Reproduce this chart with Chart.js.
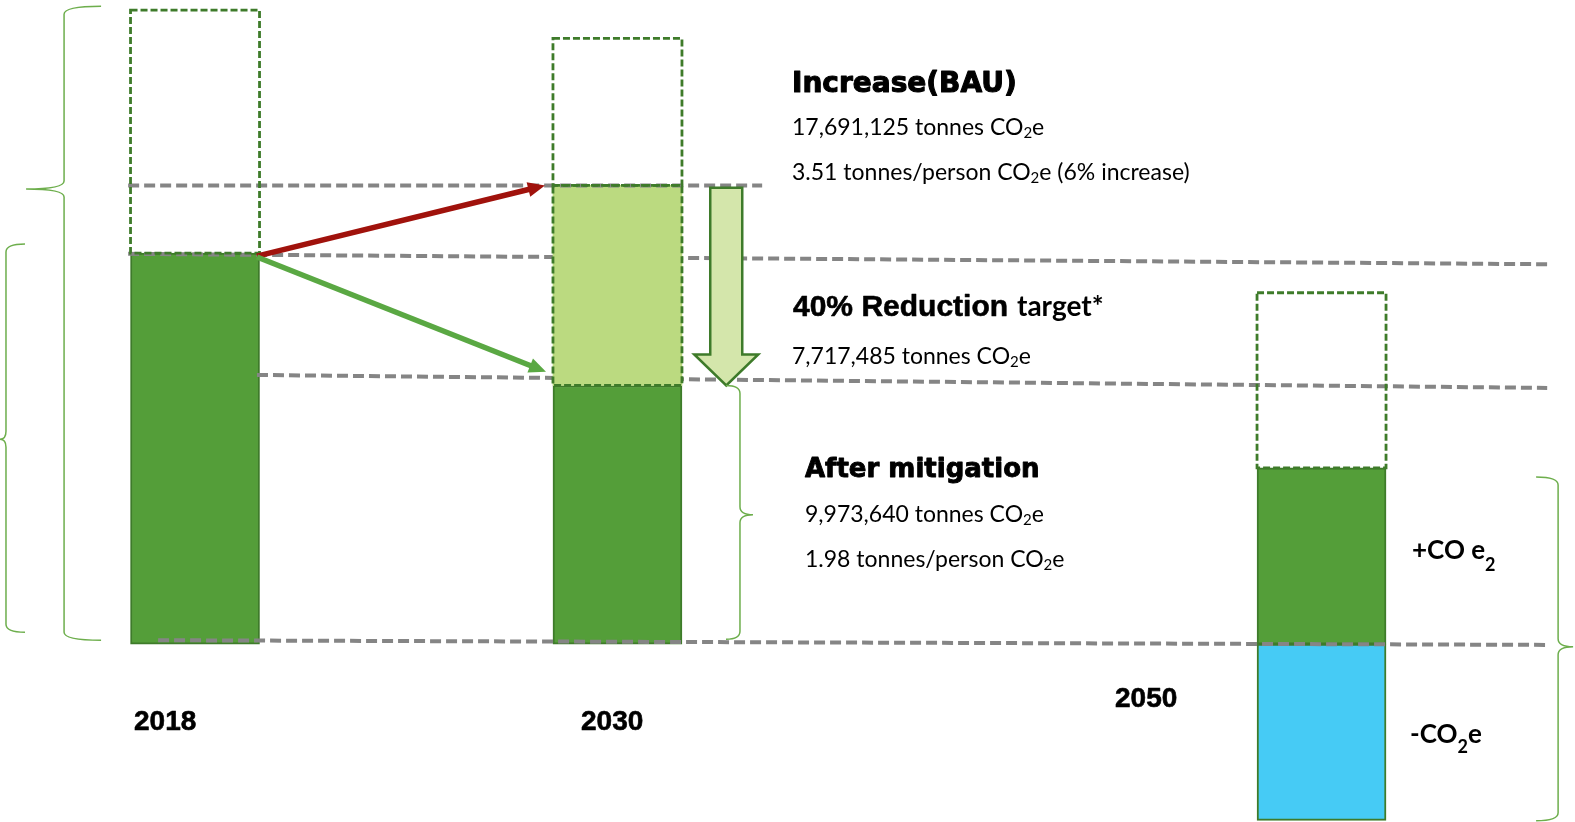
<!DOCTYPE html>
<html>
<head>
<meta charset="utf-8">
<title>Emissions pathway 2018-2050</title>
<script src="https://cdn.jsdelivr.net/npm/chart.js@4/dist/chart.umd.min.js"></script>
<style>
  html, body { margin: 0; padding: 0; background: #fff; }
  canvas { display: block; }
</style>
</head>
<body>
<canvas id="pathwayChart" width="1575" height="822"></canvas>
<script>
// Emissions in million tonnes CO2e
const years = [2018, 2030, 2050];
const emitted = [15.08, 9.97364, 6.8];        // dark green part
const reductionTarget = [0, 7.717485, 0];     // 40% reduction, 2030 only
const removals = [0, 0, -6.8];                // negative emissions, 2050 only
const outlineTop = [24.45, 23.36, 13.55];     // top of the dashed boxes

// dashed grey reference levels
const guideFrom = [2016.10, 2016.10, 2019.76, 2016.95];
const guideTo = [2034.11, 2056.41, 2056.41, 2056.41];
const guideStart = [17.691, 15.05, 10.38, 0.15];
const guideEnd = [17.691, 14.65, 9.88, -0.03];

// arrows from the 2018 level to the 2030 outcomes
const arrowFrom = [[2019.76, 14.96], [2019.76, 14.93]];
const arrowTo = [[2027.94, 17.69], [2027.97, 10.5]];

const green = '#549E39';
const darkGreen = '#3E7B2A';
const lightGreen = '#BBDA80';
const blue = '#46CBF5';
const grey = '#858585';

function bars(values, base) {
  return years
    .map((x, i) => ({ x, y: [base[i], base[i] + values[i]] }))
    .filter(d => d.y[0] !== d.y[1]);
}

function guide(i, order) {
  return {
    type: 'line',
    label: 'guide ' + i,
    data: [{ x: guideFrom[i], y: guideStart[i] }, { x: guideTo[i], y: guideEnd[i] }],
    borderColor: grey,
    borderWidth: 4,
    borderDash: [11, 5],
    pointRadius: 0,
    fill: false,
    order: order
  };
}

// braces: x in years, spans in value units, tail/depth in px
const braces = [
  { x: 2014.28, top: 24.6, bottom: 0.15, tip: 17.55, dir: 1, tail: 37, depth: 38 },
  { x: 2012.63, top: 15.43, bottom: 0.46, tip: 7.9, dir: 1, tail: 19, depth: 6 },
  { x: 2033.48, top: emitted[1], bottom: 0.19, tip: emitted[1] / 2, dir: -1, tail: 14, depth: 13 },
  { x: 2056.72, top: 6.44, bottom: -6.81, tip: -0.1, dir: -1, tail: 22, depth: 15 }
];

const body = '23px Lato';
const sub = '15px Lato';
const heavy = 'bold 28px "DejaVu Sans"';
const notes = [
  { x: 792, y: 92, runs: [['Increase(BAU)', heavy, 0, 1.1]] },
  { x: 792, y: 135, runs: [['17,691,125 tonnes CO', body], ['2', sub, 3], ['e', body]] },
  { x: 792, y: 180, runs: [['3.51 tonnes/person CO', body], ['2', sub, 3], ['e (6% increase)', body]] },
  { x: 793, y: 316, runs: [['40% Reduction ', 'bold 30px "Liberation Sans"', 0, 0.6], ['target*', 'bold 28px Lato']] },
  { x: 792, y: 364, runs: [['7,717,485 tonnes CO', body], ['2', sub, 3], ['e', body]] },
  { x: 805, y: 477, runs: [['After mitigation', 'bold 26px "DejaVu Sans"', 0, 0.9]] },
  { x: 805, y: 522, runs: [['9,973,640 tonnes CO', body], ['2', sub, 3], ['e', body]] },
  { x: 805, y: 567, runs: [['1.98 tonnes/person CO', body], ['2', sub, 3], ['e', body]] },
  { x: 1412, y: 559, runs: [['+CO e', 'bold 26px Lato'], ['2', 'bold 18px Lato', 12]] },
  { x: 1410, y: 743, runs: [['-CO', 'bold 26px Lato'], ['2', 'bold 18px Lato', 10], ['e', 'bold 26px Lato']] },
  { x: 134, y: 730, runs: [['2018', 'bold 28px "Liberation Sans"', 0, 0.6]] },
  { x: 581, y: 730, runs: [['2030', 'bold 28px "Liberation Sans"', 0, 0.6]] },
  { x: 1115, y: 707, runs: [['2050', 'bold 28px "Liberation Sans"', 0, 0.6]] }
];

function drawRuns(ctx, x, y, runs) {
  ctx.fillStyle = '#000';
  ctx.strokeStyle = '#000';
  ctx.lineJoin = 'round';
  ctx.textBaseline = 'alphabetic';
  ctx.textAlign = 'left';
  runs.forEach(([t, font, dy, weight]) => {
    ctx.font = font;
    ctx.fillText(t, x, y + (dy || 0));
    if (weight) {
      ctx.lineWidth = weight;
      ctx.strokeText(t, x, y + (dy || 0));
    }
    x += ctx.measureText(t).width + (weight || 0);
  });
}

function drawBrace(ctx, x, top, bot, tip, dir, tail, depth) {
  const r = 8;
  ctx.beginPath();
  ctx.moveTo(x + dir * tail, top);
  ctx.quadraticCurveTo(x, top, x, top + r);
  ctx.lineTo(x, tip - r);
  ctx.quadraticCurveTo(x, tip, x - dir * depth, tip);
  ctx.quadraticCurveTo(x, tip, x, tip + r);
  ctx.lineTo(x, bot - r);
  ctx.quadraticCurveTo(x, bot, x + dir * tail, bot);
  ctx.stroke();
}

function drawArrow(ctx, x0, y0, x1, y1, color, width, len, w) {
  const a = Math.atan2(y1 - y0, x1 - x0);
  const c = Math.cos(a), s = Math.sin(a);
  const bx = x1 - len * c, by = y1 - len * s;
  ctx.strokeStyle = color;
  ctx.fillStyle = color;
  ctx.lineWidth = width;
  ctx.beginPath();
  ctx.moveTo(x0, y0);
  ctx.lineTo(bx + 2 * c, by + 2 * s);
  ctx.stroke();
  ctx.beginPath();
  ctx.moveTo(x1, y1);
  ctx.lineTo(bx + w / 2 * s, by - w / 2 * c);
  ctx.lineTo(bx - w / 2 * s, by + w / 2 * c);
  ctx.closePath();
  ctx.fill();
}

const overlay = {
  id: 'overlay',
  afterDatasetsDraw(chart) {
    const ctx = chart.ctx;
    // dashed outlines for boxes flagged as dashed
    ctx.save();
    ctx.strokeStyle = darkGreen;
    ctx.lineWidth = 2.8;
    ctx.setLineDash([7, 3]);
    chart.data.datasets.forEach((ds, i) => {
      if (!ds.dashed) return;
      chart.getDatasetMeta(i).data.forEach(bar => {
        const p = bar.getProps(['x', 'y', 'base', 'width'], true);
        ctx.strokeRect(p.x - p.width / 2, Math.min(p.y, p.base), p.width, Math.abs(p.base - p.y));
      });
    });
    ctx.restore();
  },
  afterDraw(chart) {
    const ctx = chart.ctx;
    const xs = chart.scales.x, ys = chart.scales.y;
    ctx.save();

    // BAU and mitigation arrows
    const arrowColors = ['#A0120C', '#5AA843'];
    arrowFrom.forEach((f, i) => {
      const t = arrowTo[i];
      drawArrow(ctx, xs.getPixelForValue(f[0]), ys.getPixelForValue(f[1]),
        xs.getPixelForValue(t[0]), ys.getPixelForValue(t[1]), arrowColors[i], 5.5, 17, 15);
    });

    // hollow arrow down to the 2030 target
    const cx = xs.getPixelForValue(2033.09);
    const top = ys.getPixelForValue(17.6);
    const tip = ys.getPixelForValue(emitted[1]);
    const head = tip - 31;
    ctx.beginPath();
    ctx.moveTo(cx - 16, top);
    ctx.lineTo(cx + 16, top);
    ctx.lineTo(cx + 16, head);
    ctx.lineTo(cx + 32, head);
    ctx.lineTo(cx, tip);
    ctx.lineTo(cx - 32, head);
    ctx.lineTo(cx - 16, head);
    ctx.closePath();
    ctx.fillStyle = '#D4E6AB';
    ctx.fill();
    ctx.strokeStyle = darkGreen;
    ctx.lineWidth = 2.5;
    ctx.lineJoin = 'miter';
    ctx.stroke();

    // curly braces
    ctx.strokeStyle = '#6DAE4C';
    ctx.lineWidth = 1.5;
    braces.forEach(b => {
      drawBrace(ctx, xs.getPixelForValue(b.x), ys.getPixelForValue(b.top),
        ys.getPixelForValue(b.bottom), ys.getPixelForValue(b.tip), b.dir, b.tail, b.depth);
    });

    notes.forEach(n => drawRuns(ctx, n.x, n.y, n.runs));
    ctx.restore();
  }
};

const ctx = document.getElementById('pathwayChart').getContext('2d');
const pathwayChart = new Chart(ctx, {
  type: 'bar',
  data: {
    datasets: [
      guide(0, 0),
      guide(3, 0),
      {
        label: 'Reduction target',
        data: bars(reductionTarget, emitted),
        backgroundColor: lightGreen,
        borderWidth: 0,
        dashed: true,
        order: 1
      },
      {
        label: 'Removals',
        data: bars(removals, [0, 0, 0]),
        backgroundColor: blue,
        borderColor: darkGreen,
        borderWidth: 2,
        borderSkipped: false,
        order: 1
      },
      guide(1, 2),
      guide(2, 2),
      {
        label: 'Emissions',
        data: bars(emitted, [0, 0, 0]),
        backgroundColor: green,
        borderColor: darkGreen,
        borderWidth: 2,
        borderSkipped: false,
        order: 3
      },
      {
        label: 'Outline',
        data: years.map((x, i) => ({ x, y: [emitted[i] + reductionTarget[i], outlineTop[i]] })),
        backgroundColor: 'rgba(0,0,0,0)',
        borderWidth: 0,
        dashed: true,
        order: 4
      }
    ]
  },
  options: {
    responsive: false,
    animation: false,
    events: [],
    layout: { padding: 0 },
    datasets: {
      bar: { grouped: false, barThickness: 129 }
    },
    plugins: {
      legend: { display: false },
      tooltip: { enabled: false }
    },
    scales: {
      x: { type: 'linear', min: 2012.46, max: 2057.2, bounds: 'data', offset: false, display: false },
      y: { min: -6.86, max: 24.84, bounds: 'data', display: false }
    }
  },
  plugins: [overlay]
});
</script>
</body>
</html>
